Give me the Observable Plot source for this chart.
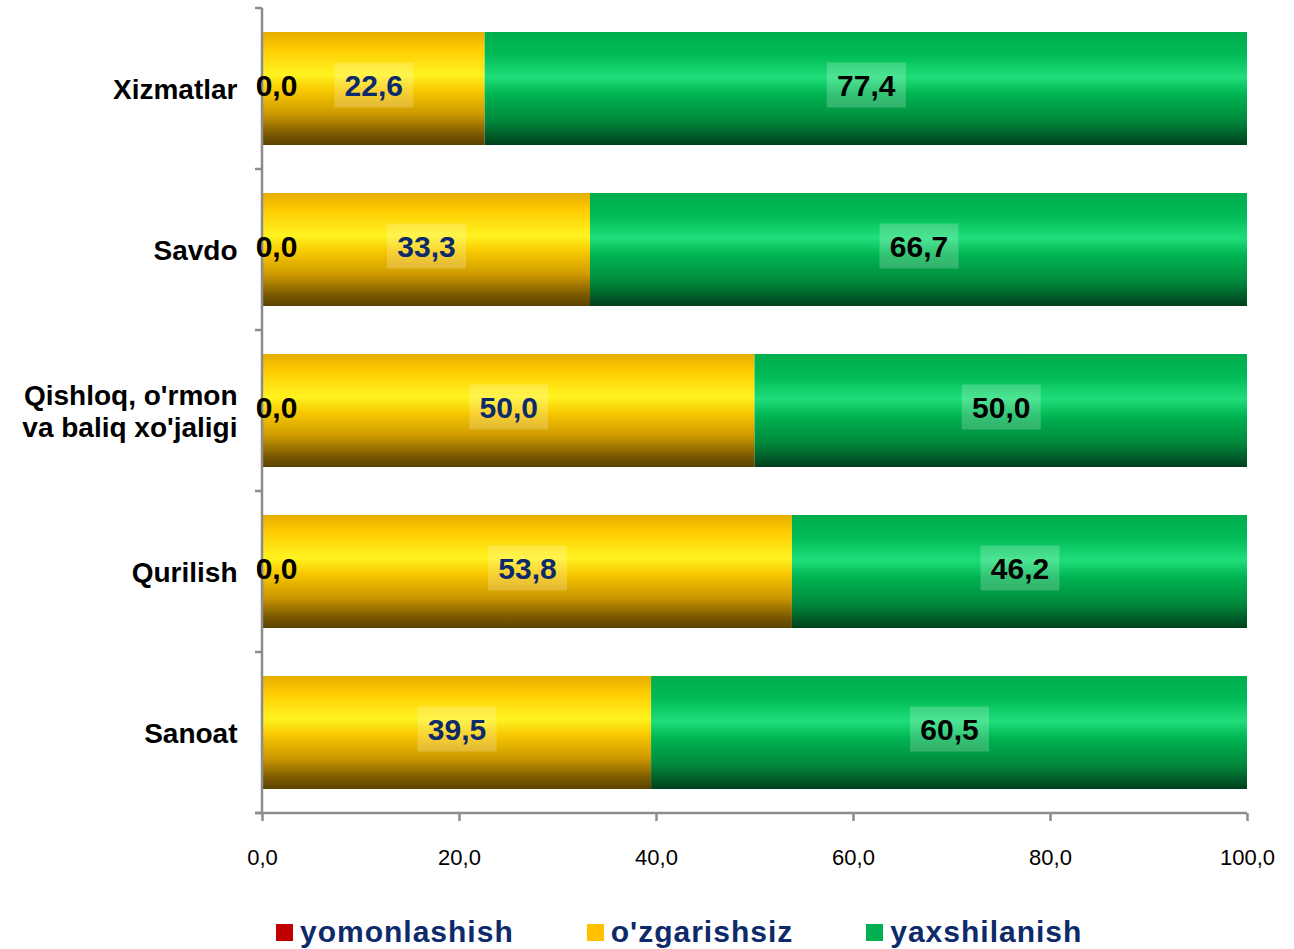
<!DOCTYPE html>
<html>
<head>
<meta charset="utf-8">
<script src="https://cdn.jsdelivr.net/npm/d3@7"></script>
<script src="https://cdn.jsdelivr.net/npm/@observablehq/plot@0.6"></script>
<style>
  html, body { margin: 0; padding: 0; background: #fff; }
  body { width: 1294px; height: 949px; position: relative; overflow: hidden; font-family: "Liberation Sans", Arial, sans-serif; }
  #chart { position: absolute; left: 0; top: 0; }
  #legend { position: absolute; left: 276px; top: 915px; display: flex; gap: 73px; align-items: center; }
  .item { display: flex; align-items: center; gap: 7px; font-weight: bold; font-size: 30px; color: #0d2a6b; letter-spacing: 1px; }
  .sw { width: 17px; height: 17px; display: inline-block; }
</style>
</head>
<body>
<svg width="0" height="0" style="position:absolute">
  <defs>
    <linearGradient id="gYellow" x1="0" y1="0" x2="0" y2="1">
      <stop offset="0" stop-color="#e6ad00"/>
      <stop offset="0.15" stop-color="#ffcc00"/>
      <stop offset="0.38" stop-color="#fff320"/>
      <stop offset="0.52" stop-color="#f8c800"/>
      <stop offset="0.72" stop-color="#cf9a00"/>
      <stop offset="0.9" stop-color="#7c5a00"/>
      <stop offset="1" stop-color="#5a4200"/>
    </linearGradient>
    <linearGradient id="gGreen" x1="0" y1="0" x2="0" y2="1">
      <stop offset="0" stop-color="#00ad4c"/>
      <stop offset="0.2" stop-color="#00bb56"/>
      <stop offset="0.4" stop-color="#1fdf7a"/>
      <stop offset="0.55" stop-color="#00b452"/>
      <stop offset="0.78" stop-color="#008a3c"/>
      <stop offset="1" stop-color="#00401c"/>
    </linearGradient>
    <linearGradient id="gRed" x1="0" y1="0" x2="0" y2="1">
      <stop offset="0" stop-color="#e00000"/>
      <stop offset="1" stop-color="#600000"/>
    </linearGradient>
  </defs>
</svg>
<div id="chart"></div>
<div id="legend"></div>
<script>
// ---- data ----
const categories = ["Xizmatlar", "Savdo", "Qishloq, o'rmon\nva baliq xo'jaligi", "Qurilish", "Sanoat"];
const seriesNames = ["yomonlashish", "o'zgarishsiz", "yaxshilanish"];
const yomonlashish = [0.0, 0.0, 0.0, 0.0, null];
const ozgarishsiz = [22.6, 33.3, 50.0, 53.8, 39.5];
const yaxshilanish = [77.4, 66.7, 50.0, 46.2, 60.5];
const xTicks = [0, 20, 40, 60, 80, 100];

const seriesValues = [yomonlashish, ozgarishsiz, yaxshilanish];
const gradients = ["url(#gRed)", "url(#gYellow)", "url(#gGreen)"];
const swatchColors = ["#c00000", "#ffc000", "#00b050"];

const rows = [];
seriesNames.forEach((s, si) => {
  categories.forEach((c, ci) => {
    const v = seriesValues[si][ci];
    if (v != null) rows.push({category: c, series: s, value: v});
  });
});

const fmt = v => v.toFixed(1).replace(".", ",");

const boxSymbol = { draw(ctx) { ctx.rect(-39.5, -22.5, 79, 45); } };

// axis lines and band-boundary ticks drawn from the scales
function axisFrame(index, scales, values, dims) {
  const g = d3.create("svg:g").attr("stroke", "#8c8c8c").attr("stroke-width", 2.5).attr("fill", "none");
  const y = scales.y, x = scales.x;
  const bw = y.bandwidth ? y.bandwidth() : 0;
  const step = y.step ? y.step() : bw;
  const left = x(0);
  const bottom = dims.height - dims.marginBottom;
  const top = dims.marginTop;
  g.append("line").attr("x1", left).attr("x2", left).attr("y1", top).attr("y2", bottom);
  g.append("line").attr("x1", left - 7).attr("x2", x(100)).attr("y1", bottom).attr("y2", bottom);
  const doms = y.domain();
  const bounds = doms.map(c => y(c) - (step - bw) / 2);
  bounds.push(bottom);
  bounds.forEach(b => g.append("line").attr("x1", left - 7).attr("x2", left).attr("y1", b).attr("y2", b));
  return g.node();
}

const plot = Plot.plot({
  width: 1294,
  height: 890,
  marginLeft: 262,
  marginRight: 47,
  marginTop: 8,
  marginBottom: 77,
  style: { fontFamily: "'Liberation Sans', Arial, sans-serif", background: "transparent" },
  x: { domain: [0, 100] },
  y: { domain: categories, paddingInner: 0.3, paddingOuter: 0.15 },
  color: { domain: seriesNames, range: gradients },
  marks: [
    Plot.barX(rows, Plot.stackX({ x: "value", y: "category", fill: "series" })),
    axisFrame,
    Plot.dot(rows, Plot.stackX({
      x: "value", y: "category",
      r: d => d.series === "yomonlashish" ? 0 : 1,
      symbol: boxSymbol, fill: "white", fillOpacity: 0.2, stroke: "none", dy: -4
    })),
    Plot.text(rows, Plot.stackX({
      x: "value", y: "category",
      text: d => d.series === "o'zgarishsiz" ? fmt(d.value) : null,
      fill: "#0d2a6b", fontSize: 30, fontWeight: "bold", dy: -3
    })),
    Plot.text(rows, Plot.stackX({
      x: "value", y: "category",
      text: d => d.series === "yaxshilanish" ? fmt(d.value) : null,
      fill: "black", fontSize: 30, fontWeight: "bold", dy: -3
    })),
    Plot.text(rows, Plot.stackX({
      x: "value", y: "category",
      text: d => d.series === "yomonlashish" ? fmt(d.value) : null,
      fill: "black", fontSize: 30, fontWeight: "bold", dx: 14, dy: -3
    })),
    Plot.axisY({ tickSize: 0, tickPadding: 25, fontSize: 28, fontWeight: "bold", fill: "black", label: null, lineHeight: 1.15 }),
    Plot.axisX({ ticks: xTicks, tickSize: 8, tickPadding: 28, fontSize: 22, stroke: "#8c8c8c", strokeWidth: 2.5, tickFormat: fmt, label: null, fill: "black" })
  ]
});
document.getElementById("chart").appendChild(plot);

// legend
const legend = document.getElementById("legend");
seriesNames.forEach((s, i) => {
  const item = document.createElement("div");
  item.className = "item";
  const sw = document.createElement("span");
  sw.className = "sw";
  sw.style.background = swatchColors[i];
  const t = document.createElement("span");
  t.textContent = s;
  item.appendChild(sw);
  item.appendChild(t);
  legend.appendChild(item);
});
</script>
</body>
</html>
